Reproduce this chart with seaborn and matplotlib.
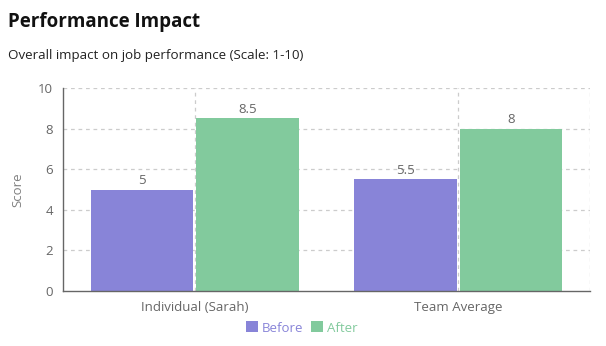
import matplotlib
matplotlib.use("Agg")
import matplotlib.pyplot as plt
import seaborn as sns
import pandas as pd
from matplotlib.patches import Patch

categories = ["Individual (Sarah)", "Team Average"]
before = [5, 5.5]
after = [8.5, 8]
series_names = ["Before", "After"]
colors = ["#8884d8", "#82ca9d"]

df = pd.DataFrame({
    "Category": categories * 2,
    "Series": [series_names[0]] * 2 + [series_names[1]] * 2,
    "Score": before + after,
})

sns.set_style("white")
plt.rcParams["font.family"] = ["Open Sans", "DejaVu Sans"]

W, H = 606, 346
fig = plt.figure(figsize=(W / 100, H / 100), dpi=100)
ax = fig.add_axes([63 / W, 1 - 291 / H, (590 - 63) / W, (291 - 88) / H])

sns.barplot(data=df, x="Category", y="Score", hue="Series", palette=colors,
            width=0.8, gap=0.03, ax=ax, legend=False, saturation=1,
            edgecolor="none", linewidth=0)

ax.set_xlim(-0.5, 1.5)
ax.set_ylim(0, 10)
ax.set_yticks([0, 2, 4, 6, 8, 10])

grid_kw = dict(color="#cccccc", linestyle=(0, (3, 3)), linewidth=0.9, zorder=0)
for y in [2, 4, 6, 8, 10]:
    ax.axhline(y, **grid_kw)
for x in [0, 1, 1.5]:
    ax.axvline(x, **grid_kw)
ax.set_axisbelow(True)

for cont in ax.containers:
    ax.bar_label(cont, labels=[f"{v:g}" for v in cont.datavalues],
                 padding=2, color="#666666", fontsize=9.5)

for s in ["top", "right"]:
    ax.spines[s].set_visible(False)
for s in ["left", "bottom"]:
    ax.spines[s].set_color("#666666")
    ax.spines[s].set_linewidth(1)
ax.tick_params(axis="both", colors="#666666", labelsize=9.5, length=5, width=1,
               labelcolor="#666666")
ax.tick_params(axis="x", pad=2)
ax.tick_params(axis="y", pad=2)
ax.set_xlabel("")
ax.set_ylabel("Score", color="#808080", fontsize=9.5, labelpad=10)

fig.text(8 / W, 1 - 22 / H, "Performance Impact", fontsize=13.5, fontweight="bold",
         va="center", ha="left", color="#111111")
fig.text(8 / W, 1 - 55 / H, "Overall impact on job performance (Scale: 1-10)",
         fontsize=9.6, va="center", ha="left", color="#222222")

handles = [Patch(facecolor=c, edgecolor="none") for c in colors]
leg = fig.legend(handles, series_names, loc="center", bbox_to_anchor=(302 / W, 1 - 328 / H),
                 ncol=2, frameon=False, fontsize=9.5, handlelength=0.9, handleheight=0.9,
                 handletextpad=0.3, columnspacing=0.6)
for t, c in zip(leg.get_texts(), colors):
    t.set_color(c)

fig.savefig("out.png", dpi=100)
